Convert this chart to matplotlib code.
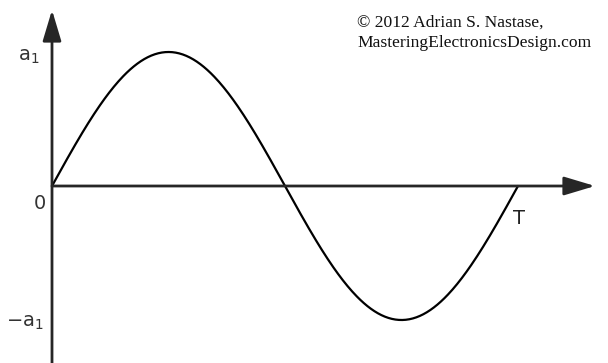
import numpy as np
import matplotlib
matplotlib.use('Agg')
import matplotlib.pyplot as plt

# signal: one period of a sine of amplitude a1
amplitude = 1.0
period = 1.0
n_points = 400

y_labels = [r'$\mathregular{a_1}$', '0', r'$\mathregular{-a_1}$']
y_label_values = [amplitude, 0.0, -amplitude]
period_label = 'T'
credit = '\u00a9 2012 Adrian S. Nastase,\nMasteringElectronicsDesign.com'

W, H = 608, 363
fig = plt.figure(figsize=(W / 100, H / 100), dpi=100)
ax = fig.add_axes([0, 0, 1, 1])

# pixel mapping: origin at (52, 186), period = 466 px, amplitude = 134 px
x0, y0, px_t, px_a = 52, 186, 466, 134
ax.set_xlim(-x0 / px_t * period, (W - x0) / px_t * period)
ax.set_ylim(-(H - y0) / px_a * amplitude, y0 / px_a * amplitude)
ax.axis('off')

t = np.linspace(0, period, n_points)
ax.plot(t, amplitude * np.sin(2 * np.pi * t / period), color='black', lw=1.6,
        solid_capstyle='round', zorder=3)

axis_color = '#262626'
arrow = dict(arrowstyle='-|>,head_length=1.0,head_width=0.3', color=axis_color,
             lw=2.0, mutation_scale=19, shrinkA=0, shrinkB=0)
ylo, yhi = ax.get_ylim()
xlo, xhi = ax.get_xlim()
# vertical axis, from bottom to arrow tip
ax.annotate('', xy=(0, yhi - 10 / px_a), xytext=(0, ylo), arrowprops=arrow)
# horizontal axis
ax.annotate('', xy=(xhi - 13 / px_t, 0), xytext=(0, 0), arrowprops=arrow)

label_color = '#333333'
# right edge of each label (px) and vertical shift (in amplitude units)
label_right = [40, 46, 44]
label_shift = [-0.035, -0.127, -0.02]
for lab, v, r, dy in zip(y_labels, y_label_values, label_right, label_shift):
    ax.text((r - x0) / px_t, v + dy, lab, ha='right', va='center',
            fontsize=14, color=label_color, family='DejaVu Sans')

ax.text(period + 0.002, -0.24, period_label, ha='center', va='center',
        fontsize=14, color='#222222', family='DejaVu Sans')

ax.text((357 - x0) / px_t, (y0 - 15) / px_a, credit, ha='left', va='top',
        fontsize=12.6, family='Liberation Serif', color='#111111',
        linespacing=1.3)

fig.savefig('out.png', dpi=100)
